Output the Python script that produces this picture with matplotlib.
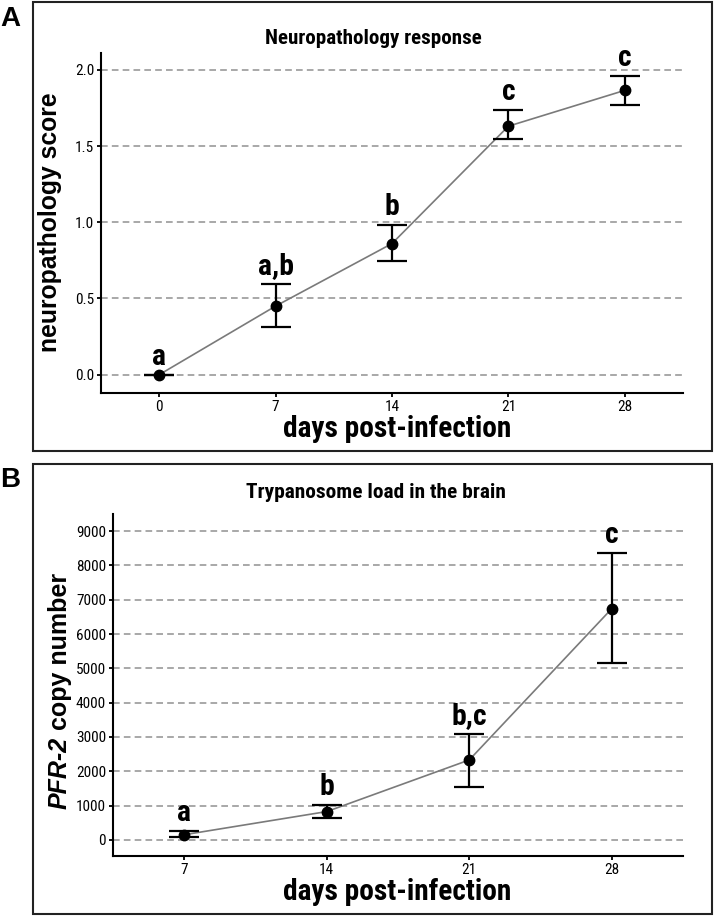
import matplotlib
matplotlib.use("Agg")
import matplotlib.pyplot as plt
from matplotlib import font_manager
from matplotlib.patches import Rectangle
import numpy as np

# =====================================================
# Data
# =====================================================
# A: neuropathology score
days_a = [0, 7, 14, 21, 28]
score = [0.0, 0.45, 0.86, 1.63, 1.865]
score_hi = [0.0, 0.595, 0.98, 1.735, 1.96]
score_lo = [0.0, 0.31, 0.745, 1.545, 1.77]
letters_a = ["a", "a,b", "b", "c", "c"]

# B: PFR-2 copy number in the brain
days_b = [7, 14, 21, 28]
copies = [150, 825, 2330, 6740]
copies_hi = [260, 1020, 3090, 8360]
copies_lo = [70, 640, 1555, 5160]
letters_b = ["a", "b", "b,c", "c"]

# =====================================================
# Fonts: pick a narrow family if one is installed
# =====================================================
installed = {f.name for f in font_manager.fontManager.ttflist}
NARROW = None
for name in ["Liberation Sans Narrow", "Arial Narrow", "Roboto Condensed",
             "Open Sans Condensed", "DejaVu Sans Condensed"]:
    if name in installed:
        NARROW = name
        break
STRETCH = "normal"
if NARROW is None:
    NARROW = "DejaVu Sans"
    STRETCH = "condensed"
SANS = "Liberation Sans" if "Liberation Sans" in installed else "DejaVu Sans"

W, H = 714, 916
fig = plt.figure(figsize=(W / 100, H / 100), dpi=100)
renderer = fig.canvas.get_renderer()


def fx(px):
    return px / W


def fy(py):
    return 1 - py / H


def fit(t, size_px, vertical=False):
    # scale font size so the text spans size_px like in the reference
    bb = t.get_window_extent(renderer)
    cur = bb.height if vertical else bb.width
    t.set_fontsize(t.get_fontsize() * size_px / cur)
    return t


def narrow_size(sample, width_px, bold=False):
    t = fig.text(0, 0, sample, fontsize=10, family=NARROW, stretch=STRETCH,
                 fontweight="bold" if bold else "normal")
    w = t.get_window_extent(renderer).width
    t.remove()
    return 10 * width_px / w


TICK_FS = 11
LET_FS = narrow_size("a,b", 36, bold=True)


def panel(ax, x, y, hi, lo, letters, xlim, ylim, yticks, yfmt):
    y = np.array(y)
    err = [y - np.array(lo), np.array(hi) - y]
    ax.plot(x, y, color="#7a7a7a", lw=1.2, zorder=3)
    ax.errorbar(x, y, yerr=err, fmt="o", color="black", ms=7.5,
                elinewidth=1.6, capsize=11, capthick=1.6, zorder=4)
    for xi, h, t in zip(x, hi, letters):
        ax.annotate(t, (xi, h), xytext=(0, 3), textcoords="offset points",
                    ha="center", va="bottom", fontsize=LET_FS,
                    fontweight="bold", family=NARROW, stretch=STRETCH)
    ax.set_xlim(*xlim)
    ax.set_ylim(*ylim)
    ax.set_xticks(x)
    ax.set_yticks(yticks)
    ax.set_yticklabels([yfmt(v) for v in yticks])
    for v in yticks:
        ax.axhline(v, color="#999999", lw=1.2, ls=(0, (4, 2.5)), zorder=1)
    for s in ["top", "right"]:
        ax.spines[s].set_visible(False)
    for s in ["left", "bottom"]:
        ax.spines[s].set_linewidth(1.5)
    ax.tick_params(length=3, width=1.3, labelsize=TICK_FS, pad=2)
    for lab in ax.get_xticklabels() + ax.get_yticklabels():
        lab.set_family(NARROW)
        lab.set_stretch(STRETCH)


# ----------------- Panel A -----------------
axA = fig.add_axes([fx(101), fy(393), fx(683 - 101), (393 - 53) / H])
panel(axA, days_a, score, score_hi, score_lo, letters_a,
      (-3.5, 31.5), (-0.12, 2.11), [0.0, 0.5, 1.0, 1.5, 2.0],
      lambda v: f"{v:.1f}")

fig.add_artist(Rectangle((fx(33), fy(451)), fx(712 - 33), (451 - 2) / H,
                         transform=fig.transFigure, fill=False,
                         lw=1.5, ec="#222222"))
fig.text(fx(10), fy(19), "A", fontsize=20, fontweight="bold", family=SANS,
         ha="center", va="center")
fit(fig.text(fx(373), fy(39), "Neuropathology response", fontsize=11,
             fontweight="bold", family=NARROW, stretch=STRETCH,
             ha="center", va="center"), 215)
fit(fig.text(fx(397), fy(429), "days post-infection", fontsize=16,
             fontweight="bold", family=NARROW, stretch=STRETCH,
             ha="center", va="center"), 228)
fit(fig.text(fx(50), fy(222), "neuropathology score", fontsize=17,
             fontweight="bold", family=SANS, rotation=90,
             ha="center", va="center"), 260, vertical=True)

# ----------------- Panel B -----------------
axB = fig.add_axes([fx(113), fy(856), fx(683 - 113), (856 - 514) / H])
panel(axB, days_b, copies, copies_hi, copies_lo, letters_b,
      (3.5, 31.5), (-470, 9500), list(range(0, 10000, 1000)),
      lambda v: f"{v}")

fig.add_artist(Rectangle((fx(33), fy(914)), fx(712 - 33), (914 - 464) / H,
                         transform=fig.transFigure, fill=False,
                         lw=1.5, ec="#222222"))
fig.text(fx(10), fy(480), "B", fontsize=20, fontweight="bold", family=SANS,
         ha="center", va="center")
fit(fig.text(fx(376), fy(493), "Trypanosome load in the brain", fontsize=11,
             fontweight="bold", family=NARROW, stretch=STRETCH,
             ha="center", va="center"), 258)
fit(fig.text(fx(397), fy(892), "days post-infection", fontsize=16,
             fontweight="bold", family=NARROW, stretch=STRETCH,
             ha="center", va="center"), 228)

# y label with italic gene name, built from two pieces
YL_FS = 18
t1 = fig.text(fx(60), fy(809), "PFR-2", fontsize=YL_FS, fontweight="bold",
              style="italic", family=SANS, rotation=90,
              ha="center", va="bottom")
bb = t1.get_window_extent(renderer)
fig.text(fx(60), bb.y1 / H, " copy number", fontsize=YL_FS,
         fontweight="bold", family=SANS, rotation=90,
         ha="center", va="bottom")

fig.savefig("out.png", dpi=100)
